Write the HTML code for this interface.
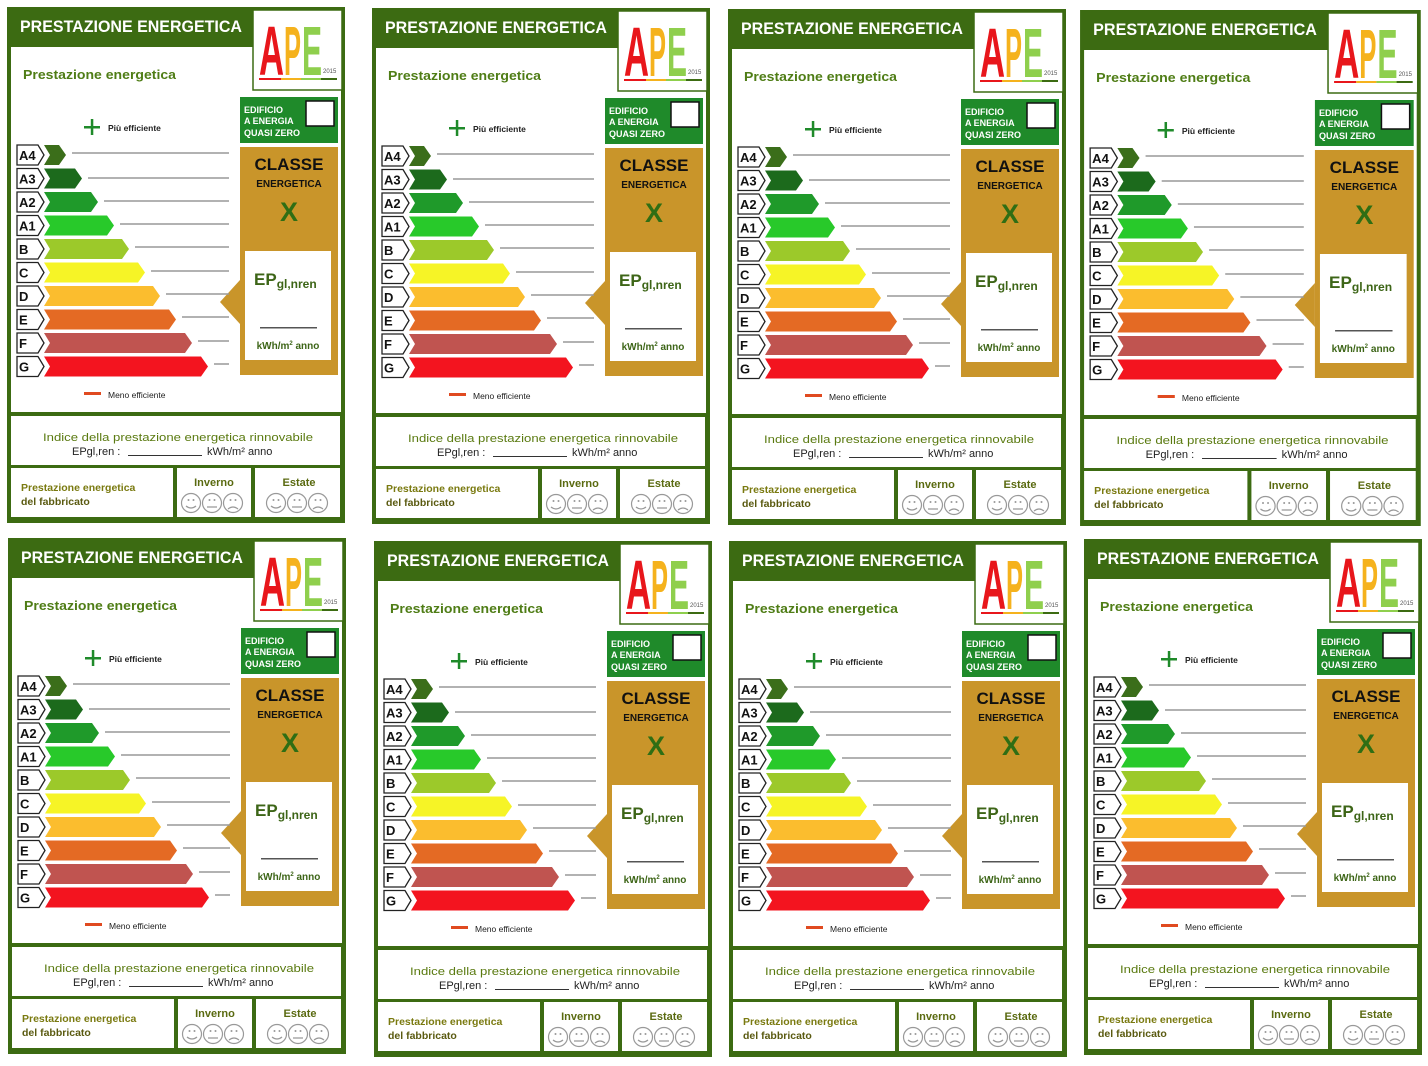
<!DOCTYPE html>
<html><head><meta charset="utf-8"><style>
html,body{margin:0;padding:0;background:#fff;width:1428px;height:1066px;overflow:hidden}
svg{display:block}
text{font-family:"Liberation Sans",sans-serif}
</style></head><body>
<svg width="1428" height="1066" viewBox="0 0 1428 1066" xmlns="http://www.w3.org/2000/svg">
<defs>
<g id="lab">
  <rect x="7" y="7" width="338" height="516" fill="#3c6b12"/>
  <rect x="11" y="47" width="330" height="365" fill="#fff"/>
  <rect x="253" y="10" width="89" height="80" fill="#fff" stroke="#3c6b12" stroke-width="1.5"/>
  <text x="20" y="32" fill="#fff" font-size="17" font-weight="bold" textLength="222" lengthAdjust="spacingAndGlyphs">PRESTAZIONE ENERGETICA</text>
  <text x="259" y="75" font-family="Liberation Serif,serif" font-weight="bold" font-size="70" fill="#e8161b" textLength="25" lengthAdjust="spacingAndGlyphs">A</text>
  <text x="284" y="75" font-family="Liberation Serif,serif" font-weight="bold" font-size="70" fill="#f5b21d" textLength="17" lengthAdjust="spacingAndGlyphs">P</text>
  <text x="302" y="75" font-family="Liberation Serif,serif" font-weight="bold" font-size="70" fill="#8fcf4d" textLength="20" lengthAdjust="spacingAndGlyphs">E</text>
  <text x="323" y="73" font-family="Liberation Serif,serif" font-size="6" fill="#555">2015</text>
  <rect x="259" y="78" width="22" height="2" fill="#e8161b"/><rect x="281" y="78" width="20" height="2" fill="#f5b21d"/><rect x="301" y="78" width="20" height="2" fill="#8fcf4d"/><rect x="321" y="78" width="16" height="2" fill="#3c6b12"/>
  <text x="23" y="79" fill="#4f7d16" font-size="12.5" font-weight="bold" textLength="153" lengthAdjust="spacingAndGlyphs">Prestazione energetica</text>
  <rect x="240" y="97" width="98" height="46" fill="#1f8a2a"/>
  <rect x="306" y="101" width="28" height="25" fill="#fff" stroke="#111" stroke-width="1.5"/>
  <text x="244" y="113" fill="#fff" font-size="9" font-weight="bold">EDIFICIO</text>
  <text x="244" y="124" fill="#fff" font-size="9" font-weight="bold">A ENERGIA</text>
  <text x="244" y="136" fill="#fff" font-size="9" font-weight="bold">QUASI ZERO</text>
  <rect x="240" y="147" width="98" height="228" fill="#c9952a"/>
  <text x="289" y="170" text-anchor="middle" font-size="17" font-weight="bold" fill="#111">CLASSE</text>
  <text x="289" y="187" text-anchor="middle" font-size="10" font-weight="bold" fill="#111">ENERGETICA</text>
  <text x="289" y="221" text-anchor="middle" font-size="27" font-weight="bold" fill="#2f6e14">X</text>
  <rect x="245" y="251" width="86" height="109" fill="#fff"/>
  <text x="254" y="285" font-size="17" font-weight="bold" fill="#3d6517">EP<tspan font-size="12" dy="3">gl,nren</tspan></text>
  <rect x="260" y="327" width="57" height="1.5" fill="#555"/>
  <text x="288" y="349" text-anchor="middle" font-size="10" font-weight="bold" fill="#3d6517">kWh/m<tspan font-size="6" dy="-4">2</tspan><tspan dy="4"> anno</tspan></text>
  <polygon points="220,302 240,280 240,324" fill="#c9952a"/>
  <rect x="84" y="126" width="16" height="2.5" fill="#1f8a2a"/><rect x="90.8" y="119" width="2.5" height="16" fill="#1f8a2a"/>
  <text x="108" y="131" font-size="8.5" fill="#222" font-weight="bold">Più efficiente</text>
  <rect x="84" y="392" width="17" height="3" fill="#e04a20"/>
  <text x="108" y="398" font-size="8.5" fill="#222">Meno efficiente</text>
  <g stroke="#222" stroke-width="1.3" fill="#fff">
   <polygon points="17,145 38,145 44,155 38,165 17,165"/>
   <polygon points="17,168.5 38,168.5 44,178.5 38,188.5 17,188.5"/>
   <polygon points="17,192 38,192 44,202 38,212 17,212"/>
   <polygon points="17,215.5 38,215.5 44,225.5 38,235.5 17,235.5"/>
   <polygon points="17,239 38,239 44,249 38,259 17,259"/>
   <polygon points="17,262.5 38,262.5 44,272.5 38,282.5 17,282.5"/>
   <polygon points="17,286 38,286 44,296 38,306 17,306"/>
   <polygon points="17,309.5 38,309.5 44,319.5 38,329.5 17,329.5"/>
   <polygon points="17,333 38,333 44,343 38,353 17,353"/>
   <polygon points="17,356.5 38,356.5 44,366.5 38,376.5 17,376.5"/>
  </g>
  <g font-size="13" fill="#111" font-weight="bold">
   <text x="19" y="160">A4</text><text x="19" y="183.5">A3</text><text x="19" y="207">A2</text><text x="19" y="230.5">A1</text>
   <text x="19" y="254">B</text><text x="19" y="277.5">C</text><text x="19" y="301">D</text><text x="19" y="324.5">E</text><text x="19" y="348">F</text><text x="19" y="371.5">G</text>
  </g>
  <polygon points="44,145 59,145 66,155 59,165 44,165 50,155" fill="#3b6e1a"/>
  <polygon points="44,168.5 75,168.5 82,178.5 75,188.5 44,188.5 50,178.5" fill="#1c6a1c"/>
  <polygon points="44,192 91,192 98,202 91,212 44,212 50,202" fill="#1f9a2a"/>
  <polygon points="44,215.5 107,215.5 114,225.5 107,235.5 44,235.5 50,225.5" fill="#28c92a"/>
  <polygon points="44,239 122,239 129,249 122,259 44,259 50,249" fill="#9cc92a"/>
  <polygon points="44,262.5 138,262.5 145,272.5 138,282.5 44,282.5 50,272.5" fill="#f6f426"/>
  <polygon points="44,286 153,286 160,296 153,306 44,306 50,296" fill="#fbbd2e"/>
  <polygon points="44,309.5 169,309.5 176,319.5 169,329.5 44,329.5 50,319.5" fill="#e46a24"/>
  <polygon points="44,333 185,333 192,343 185,353 44,353 50,343" fill="#c05450"/>
  <polygon points="44,356.5 201,356.5 208,366.5 201,376.5 44,376.5 50,366.5" fill="#f3141f"/>
  <g stroke="#999" stroke-width="1.5">
   <line x1="72" y1="153" x2="229" y2="153"/><line x1="88" y1="178" x2="229" y2="178"/>
   <line x1="104" y1="201" x2="229" y2="201"/><line x1="120" y1="224" x2="229" y2="224"/>
   <line x1="135" y1="247" x2="229" y2="247"/><line x1="151" y1="271" x2="229" y2="271"/>
   <line x1="166" y1="294" x2="229" y2="294"/><line x1="182" y1="317" x2="229" y2="317"/>
   <line x1="198" y1="341" x2="229" y2="341"/><line x1="214" y1="364" x2="229" y2="364"/>
  </g>
  <rect x="11" y="416" width="329" height="49" fill="#fff"/>
  <text x="178" y="441" text-anchor="middle" font-size="11" fill="#5a7a10" textLength="270" lengthAdjust="spacingAndGlyphs">Indice della prestazione energetica rinnovabile</text>
  <text x="72" y="455" font-size="11" fill="#222">EPgl,ren :</text>
  <rect x="128" y="455" width="74" height="1" fill="#333"/>
  <text x="207" y="455" font-size="11" fill="#222">kWh/m² anno</text>
  <rect x="11" y="468" width="162" height="49" fill="#fff"/>
  <rect x="177" y="468" width="74" height="49" fill="#fff"/>
  <rect x="255" y="468" width="85" height="49" fill="#fff"/>
  <text x="21" y="491" font-size="10.5" font-weight="bold" fill="#7a7a10">Prestazione energetica</text>
  <text x="21" y="505" font-size="10.5" font-weight="bold" fill="#5a5a10">del fabbricato</text>
  <text x="214" y="486" text-anchor="middle" font-size="11" font-weight="bold" fill="#5a6a10">Inverno</text>
  <text x="299" y="486" text-anchor="middle" font-size="11" font-weight="bold" fill="#5a6a10">Estate</text>
  <g fill="none" stroke="#999" stroke-width="1.2">
   <circle cx="191" cy="503" r="9.5"/><circle cx="212" cy="503" r="9.5"/><circle cx="233" cy="503" r="9.5"/>
   <circle cx="276" cy="503" r="9.5"/><circle cx="297" cy="503" r="9.5"/><circle cx="318" cy="503" r="9.5"/>
   <path d="M186 506 Q191 510 196 506 M207 507 L217 507 M228 509 Q233 505 238 509 M271 506 Q276 510 281 506 M292 507 L302 507 M313 509 Q318 505 323 509"/>
  </g>
  <g fill="#999">
   <circle cx="188.5" cy="500" r="1"/><circle cx="193.5" cy="500" r="1"/><circle cx="209.5" cy="500" r="1"/><circle cx="214.5" cy="500" r="1"/><circle cx="230.5" cy="500" r="1"/><circle cx="235.5" cy="500" r="1"/>
   <circle cx="273.5" cy="500" r="1"/><circle cx="278.5" cy="500" r="1"/><circle cx="294.5" cy="500" r="1"/><circle cx="299.5" cy="500" r="1"/><circle cx="315.5" cy="500" r="1"/><circle cx="320.5" cy="500" r="1"/>
  </g>
</g>
</defs>
<use href="#lab"/>
<use href="#lab" transform="translate(365,1)"/>
<use href="#lab" transform="translate(721,2)"/>
<use href="#lab" transform="translate(1073,3) scale(1.008,1)"/>
<use href="#lab" transform="translate(1,531)"/>
<use href="#lab" transform="translate(367,534)"/>
<use href="#lab" transform="translate(722,534)"/>
<use href="#lab" transform="translate(1077,532)"/>
</svg>
</body></html>
